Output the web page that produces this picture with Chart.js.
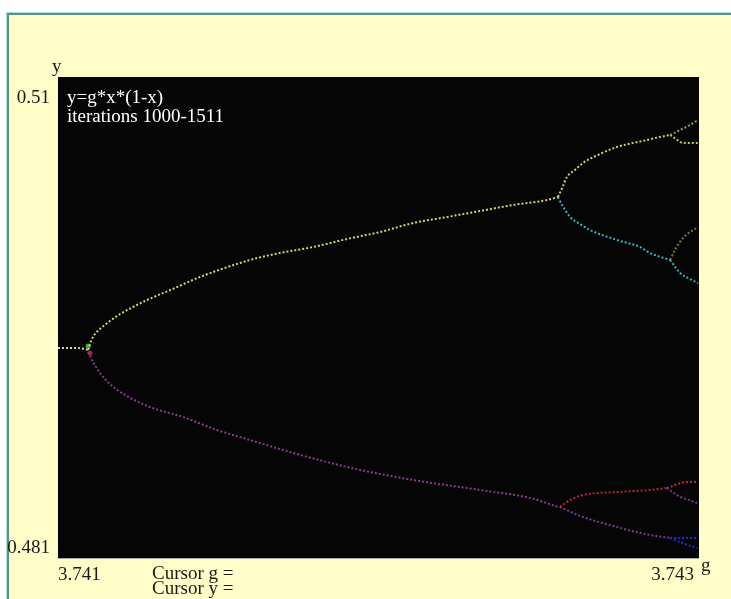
<!DOCTYPE html>
<html>
<head>
<meta charset="utf-8">
<script src="https://cdn.jsdelivr.net/npm/chart.js@4.4.1/dist/chart.umd.min.js"></script>
<style>
  html, body { margin: 0; padding: 0; background: #ffffff; overflow: hidden; }
  #panel {
    position: absolute; left: 7px; top: 13px; width: 740px; height: 600px;
    background: #fffdc8;
    border-top: 2px solid #5f8f86; border-left: 2px solid #5f8f86;
    box-shadow: -1px -1px 0 #a6e2da;
  }
  #chart { position: absolute; left: 0; top: 0; }
</style>
</head>
<body>
<div id="panel"></div>
<canvas id="chart" width="731" height="599"></canvas>
<script>
// axis range and tick labels
const gRange = [3.741, 3.743];
const yRange = [0.481, 0.51];
const gTicks = ['3.741', '3.743'];
const yTicks = ['0.481', '0.51'];
const formulaText = 'y=g*x*(1-x)';
const iterText = 'iterations 1000-1511';

// branches of the diagram (g, y)
const stemG = [3.741000, 3.741022, 3.741053, 3.741084, 3.741094];
const stemY = [0.493661, 0.493661, 0.493661, 0.493601, 0.493541];

const upperG = [3.741094, 3.741100, 3.741109, 3.741131, 3.741162, 3.741194, 3.741234, 3.741278, 3.741365, 3.741443, 3.741599, 3.741693, 3.741796, 3.741902, 3.742005, 3.742108, 3.742214, 3.742317, 3.742420, 3.742526, 3.742560];
const upperY = [0.493541, 0.493903, 0.494324, 0.494806, 0.495288, 0.495710, 0.496133, 0.496555, 0.497279, 0.497942, 0.498967, 0.499389, 0.499750, 0.500233, 0.500655, 0.501197, 0.501559, 0.501921, 0.502283, 0.502584, 0.502765];

const lowerG = [3.741094, 3.741100, 3.741109, 3.741131, 3.741162, 3.741194, 3.741287, 3.741390, 3.741496, 3.741599, 3.741702, 3.741902, 3.742108, 3.742317, 3.742473, 3.742560];
const lowerY = [0.493420, 0.493178, 0.492817, 0.492154, 0.491490, 0.491008, 0.490104, 0.489501, 0.488717, 0.488114, 0.487511, 0.486486, 0.485703, 0.485100, 0.484617, 0.484075];

const yellowG = [3.742560, 3.742573, 3.742588, 3.742613, 3.742638, 3.742691, 3.742744, 3.742794, 3.742838, 3.742878, 3.742910];
const yellowY = [0.502765, 0.503308, 0.503971, 0.504393, 0.504815, 0.505358, 0.505780, 0.506021, 0.506202, 0.506383, 0.506503];
const yellowTopG = [3.742910, 3.742941, 3.742972, 3.742997];
const yellowTopY = [0.506503, 0.506805, 0.507106, 0.507407];
const yellowLowG = [3.742910, 3.742928, 3.742950, 3.742997];
const yellowLowY = [0.506503, 0.506262, 0.506021, 0.506021];

const cyanG = [3.742560, 3.742573, 3.742598, 3.742629, 3.742660, 3.742744, 3.742816, 3.742847, 3.742910];
const cyanY = [0.502765, 0.502283, 0.501559, 0.501137, 0.500775, 0.500173, 0.499750, 0.499389, 0.498967];
const cyanLowG = [3.742910, 3.742941, 3.742972, 3.742997];
const cyanLowY = [0.498967, 0.498183, 0.497821, 0.497580];
const oliveG = [3.742910, 3.742925, 3.742950, 3.742997];
const oliveY = [0.498967, 0.499570, 0.500293, 0.500956];

const redG = [3.742566, 3.742598, 3.742638, 3.742744, 3.742847, 3.742900];
const redY = [0.484075, 0.484497, 0.484798, 0.484979, 0.485100, 0.485220];
const redTopG = [3.742900, 3.742963, 3.742997];
const redTopY = [0.485220, 0.485582, 0.485582];
const purpleG = [3.742900, 3.742931, 3.742994];
const purpleY = [0.485220, 0.484798, 0.484316];

const violetG = [3.742566, 3.742638, 3.742744, 3.742847, 3.742910];
const violetY = [0.484075, 0.483472, 0.482869, 0.482387, 0.482206];
const blueTopG = [3.742910, 3.742994];
const blueTopY = [0.482206, 0.482206];
const blueLowG = [3.742910, 3.742956, 3.742994];
const blueLowY = [0.482206, 0.481844, 0.481603];

// coloured specks where the first split happens
const greenNodeG = [3.741094];
const greenNodeY = [0.493781];
const redNodeG = [3.741100];
const redNodeY = [0.493359];

function pts(gs, ys) {
    return gs.map((g, i) => ({ x: g, y: ys[i] }));
}

function branch(gs, ys, color) {
    return {
        data: pts(gs, ys),
        showLine: true,
        borderColor: color,
        borderWidth: 2,
        borderDash: [2, 2],
        pointRadius: 0,
        cubicInterpolationMode: 'monotone',
        fill: false
    };
}

function speck(gs, ys, color) {
    return {
        data: pts(gs, ys),
        showLine: false,
        pointRadius: 2.5,
        pointBorderWidth: 0,
        pointBackgroundColor: color
    };
}

const datasets = [
    branch(stemG, stemY, '#d9d3a4'),
    branch(upperG, upperY, '#d6d666'),
    branch(lowerG, lowerY, '#8e3a8e'),
    branch(yellowG, yellowY, '#d2d062'),
    branch(yellowTopG, yellowTopY, '#8ea050'),
    branch(yellowLowG, yellowLowY, '#c8c466'),
    branch(cyanG, cyanY, '#34b8c0'),
    branch(cyanLowG, cyanLowY, '#30b0b8'),
    branch(oliveG, oliveY, '#767040'),
    branch(redG, redY, '#b82838'),
    branch(redTopG, redTopY, '#c02838'),
    branch(purpleG, purpleY, '#7a3aa0'),
    branch(violetG, violetY, '#7c3a96'),
    branch(blueTopG, blueTopY, '#2c2cc0'),
    branch(blueLowG, blueLowY, '#2a2ad0'),
    speck(greenNodeG, greenNodeY, '#40b030'),
    speck(redNodeG, redNodeY, '#a02040')
];

// black plotting field
const fieldPlugin = {
    id: 'field',
    beforeDraw(chart) {
        const a = chart.chartArea;
        const ctx = chart.ctx;
        ctx.save();
        ctx.fillStyle = '#050505';
        ctx.fillRect(a.left, a.top, a.right - a.left, a.bottom - a.top);
        ctx.strokeStyle = '#a8a8a0';
        ctx.lineWidth = 1;
        ctx.beginPath();
        ctx.moveTo(a.left, a.bottom + 0.5);
        ctx.lineTo(a.right, a.bottom + 0.5);
        ctx.stroke();
        ctx.restore();
    }
};

// tick labels and captions in the old serif look
const labelPlugin = {
    id: 'labels',
    afterDraw(chart) {
        const ctx = chart.ctx;
        const xs = chart.scales.x;
        const ys = chart.scales.y;
        const x0 = xs.getPixelForValue(gRange[0]);
        const x1 = xs.getPixelForValue(gRange[1]);
        const yTop = ys.getPixelForValue(yRange[1]);
        const yBot = ys.getPixelForValue(yRange[0]);
        ctx.save();
        ctx.font = '19px "Liberation Serif", "Times New Roman", serif';
        ctx.textBaseline = 'alphabetic';
        ctx.fillStyle = '#1a1a1a';

        ctx.textAlign = 'left';
        ctx.fillText('y', x0 - 6, yTop - 5);
        ctx.textAlign = 'right';
        ctx.fillText(yTicks[1], x0 - 8, yTop + 26);
        ctx.fillText(yTicks[0], x0 - 8, yBot - 5);

        ctx.textAlign = 'left';
        ctx.fillText(gTicks[0], x0, yBot + 22);
        ctx.textAlign = 'right';
        ctx.fillText(gTicks[1], x1 - 5, yBot + 22);
        ctx.textAlign = 'left';
        ctx.fillText('g', x1 + 2, yBot + 13);

        ctx.fillText('Cursor g =', x0 + 94, yBot + 21);
        ctx.fillText('Cursor y =', x0 + 94, yBot + 36);

        ctx.fillStyle = '#ffffff';
        ctx.fillText(formulaText, x0 + 9, yTop + 26);
        ctx.fillText(iterText, x0 + 9, yTop + 45);
        ctx.restore();
    }
};

new Chart(document.getElementById('chart'), {
    type: 'scatter',
    data: { datasets: datasets },
    options: {
        responsive: false,
        animation: false,
        layout: { padding: { left: 58, top: 77, right: 32, bottom: 41 } },
        plugins: { legend: { display: false }, tooltip: { enabled: false } },
        scales: {
            x: { type: 'linear', min: gRange[0], max: gRange[1], display: false },
            y: { type: 'linear', min: yRange[0], max: yRange[1], display: false }
        }
    },
    plugins: [fieldPlugin, labelPlugin]
});
</script>
</body>
</html>
